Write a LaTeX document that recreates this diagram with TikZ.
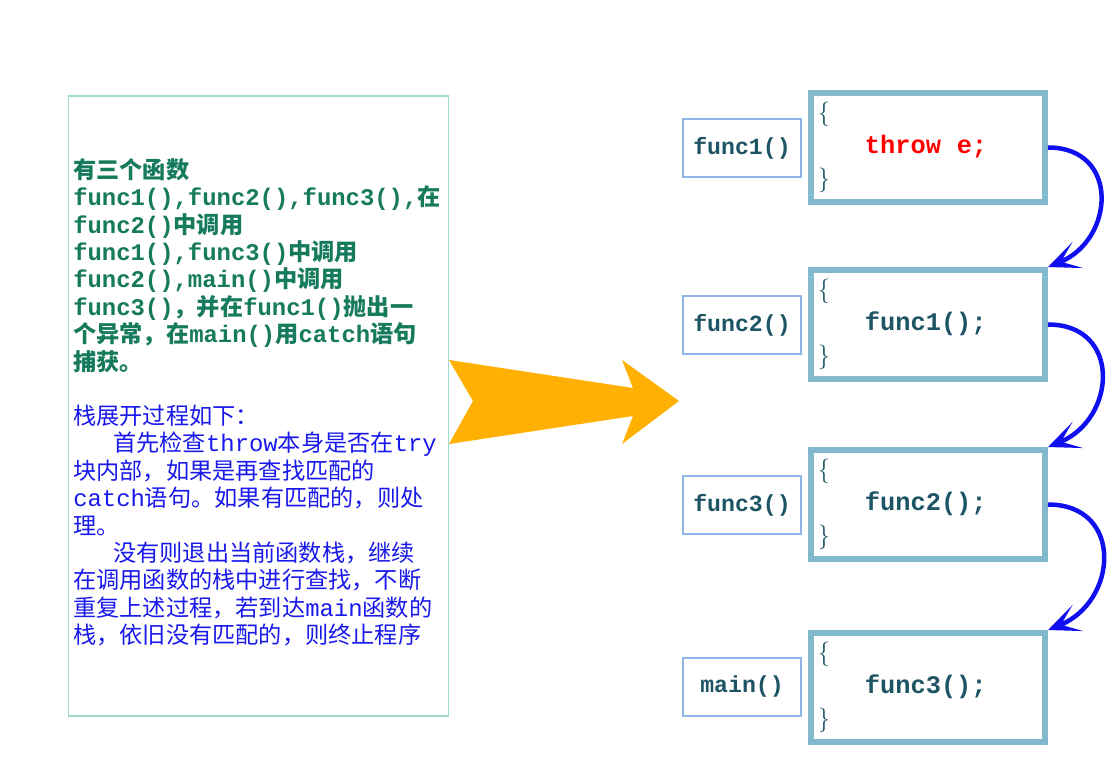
\documentclass[tikz,border=0pt]{standalone}
\usepackage{fontspec}
\setmonofont[Scale=1.03]{Liberation Mono}
\newfontfamily\cjk{Noto Sans CJK SC}
\usetikzlibrary{arrows.meta,positioning}
\definecolor{leafline}{RGB}{160,220,200}
\definecolor{noteink}{RGB}{22,122,92}
\definecolor{stackink}{RGB}{25,25,235}
\definecolor{tagline}{RGB}{140,180,230}
\definecolor{frameline}{RGB}{130,185,205}
\definecolor{codeink}{RGB}{30,85,100}
\definecolor{callblue}{RGB}{15,15,240}
\definecolor{pushorange}{RGB}{255,176,0}
\tikzset{
  panel/.style={draw=leafline, line width=1pt, minimum width=9.5cm, minimum height=15.5cm},
  para/.style={inner sep=0pt, align=left, font=\cjk\fontsize{16.5}{19.5}\selectfont},
  tag/.style={draw=tagline, line width=0.8pt, minimum width=2.95cm, minimum height=1.45cm,
              font=\ttfamily\bfseries\fontsize{16}{18}\selectfont, text=codeink},
  frame/.style={draw=frameline, line width=4.2pt, minimum width=5.85cm, minimum height=2.725cm,
                text width=5.5cm, align=left, inner sep=0pt, text=codeink,
                font=\fontsize{17.5}{23.5}\selectfont},
  call/.style={-{Stealth[length=8mm,width=7mm,inset=4.5mm]}, callblue, line width=3.2pt,
               out=0, in=22, looseness=1.55},
}
\newcommand\cd[1]{{\ttfamily #1}}
\newcommand\codeline[1]{\hspace*{1.175cm}{\ttfamily\bfseries #1}}

\begin{document}
\begin{tikzpicture}[x=0.025cm, y=-0.025cm]
  \useasboundingbox[fill=white] (0,0) rectangle (1110,768);
  % left: description
  \node[panel] (desc) at (258.5,406) {};
  \node[para, text=noteink, anchor=north west, font=\cjk\bfseries\fontsize{16.5}{19.5}\selectfont]
    (what) at (73,158)
    {有三个函数\\
     \cd{func1(),func2(),func3(),}在\\
     \cd{func2()}中调用\\
     \cd{func1(),func3()}中调用\\
     \cd{func2(),main()}中调用\\
     \cd{func3()}，并在\cd{func1()}抛出一\\
     个异常，在\cd{main()}用\cd{catch}语句\\
     捕获。};
  \node[para, text=stackink, anchor=north west] (how) at (73,404.6)
    {栈展开过程如下：\\
     \hspace*{1cm}首先检查\cd{throw}本身是否在\cd{try}\\
     块内部，如果是再查找匹配的\\
     \cd{catch}语句。如果有匹配的，则处\\
     理。\\
     \hspace*{1cm}没有则退出当前函数栈，继续\\
     在调用函数的栈中进行查找，不断\\
     重复上述过程，若到达\cd{main}函数的\\
     栈，依旧没有匹配的，则终止程序};
  % big arrow
  \fill[pushorange] (449,360) -- (473,401) -- (449,444) -- (633,416) -- (622,444)
    -- (679,401) -- (622,360) -- (633,388) -- cycle;
  % right: call stack
  \node[tag] (n1) at (742,148) {func1()};
  \node[tag] (n2) at (742,325) {func2()};
  \node[tag] (n3) at (742,505) {func3()};
  \node[tag] (n4) at (742,687) {main()};
  \node[frame] (f1) at (928,147.5) {\{\\\codeline{\textcolor{red}{throw\hspace{0.62em}e;}}\\\}};
  \node[frame] (f2) at (928,324.5) {\{\\\codeline{func1();}\\\}};
  \node[frame] (f3) at (928,504.5) {\{\\\codeline{func2();}\\\}};
  \node[frame] (f4) at (928,687.5) {\{\\\codeline{func3();}\\\}};
  \draw[call] (f1.east) to (f2.north east);
  \draw[call] (f2.east) to (f3.north east);
  \draw[call] (f3.east) to (f4.north east);
\end{tikzpicture}
\end{document}
